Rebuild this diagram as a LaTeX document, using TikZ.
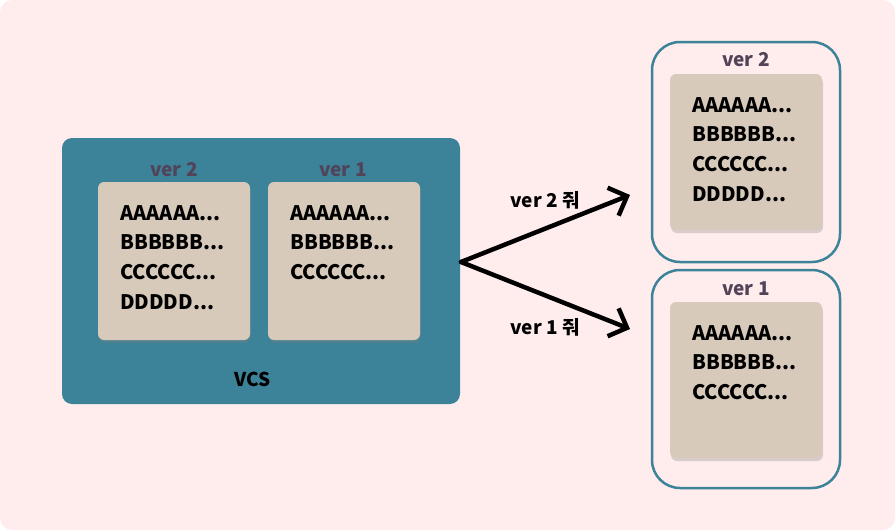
\documentclass[tikz,border=0pt]{standalone}
\usepackage{fontspec}
\setmainfont{Noto Sans CJK KR}
\usetikzlibrary{shadows}
\definecolor{bgpink}{HTML}{FFEDED}
\definecolor{vcsteal}{HTML}{3C8299}
\definecolor{cardbeige}{HTML}{D8CABB}
\definecolor{verpurple}{HTML}{524359}
\tikzset{
  card/.style={fill=cardbeige, rounded corners=6pt, minimum width=152pt, drop shadow={shadow xshift=1pt, shadow yshift=-3pt, opacity=0.3}},
  lines/.style={anchor=north west, inner sep=0pt, align=left, font=\fontsize{20}{29.7}\selectfont\bfseries},
  verlabel/.style={text=verpurple, font=\fontsize{19}{22}\selectfont\bfseries},
  outbox/.style={draw=vcsteal, line width=2.5pt, fill=bgpink, rounded corners=28pt, minimum width=188pt},
  give/.style={-{Straight Barb[length=15pt, width=30pt, line width=4.5pt]}, line width=4.5pt, line cap=round},
  givelabel/.style={font=\fontsize{19}{22}\selectfont\bfseries}
}
\usetikzlibrary{arrows.meta}
\begin{document}
\begin{tikzpicture}[x=1pt, y=-1pt]
    \fill[bgpink, rounded corners=12pt] (0,0) rectangle (895,530);
    \useasboundingbox (0,0) rectangle (895,530);

    \node[fill=vcsteal, rounded corners=10pt, minimum width=398pt, minimum height=266pt] (vcs) at (261,271) {};
    \node[card, minimum height=158pt] (vcs2) at (174,261) {};
    \node[card, minimum height=158pt] (vcs1) at (344,261) {};
    \node[verlabel] (vcs2label) at (174,170) {ver 2};
    \node[verlabel] (vcs1label) at (343,170) {ver 1};
    \node[lines] (vcs2text) at (120,205) {AAAAAA...\\BBBBBB...\\CCCCCC...\\DDDDD...};
    \node[lines] (vcs1text) at (290,205) {AAAAAA...\\BBBBBB...\\CCCCCC...};
    \node[font=\fontsize{19}{22}\selectfont\bfseries] (vcsname) at (253,379) {VCS};

    \node[outbox, minimum height=220pt] (out2) at (746,152) {};
    \node[outbox, minimum height=218pt] (out1) at (746,379) {};
    \node[card, minimum height=156pt] (out2card) at (746,152) {};
    \node[card, minimum height=156pt] (out1card) at (746,380) {};
    \node[verlabel] (out2label) at (746,60) {ver 2};
    \node[verlabel] (out1label) at (746,289) {ver 1};
    \node[lines] (out2text) at (692,97) {AAAAAA...\\BBBBBB...\\CCCCCC...\\DDDDD...};
    \node[lines] (out1text) at (692,325) {AAAAAA...\\BBBBBB...\\CCCCCC...};

    \coordinate (src) at (461,262);
    \coordinate (tip2) at (630,195);
    \coordinate (tip1) at (630,329);
    \draw[give] (src) -- (tip2);
    \draw[give] (src) -- (tip1);
    \node[givelabel] (ask2) at (545,200) {ver 2 줘};
    \node[givelabel] (ask1) at (545,327) {ver 1 줘};
\end{tikzpicture}
\end{document}
